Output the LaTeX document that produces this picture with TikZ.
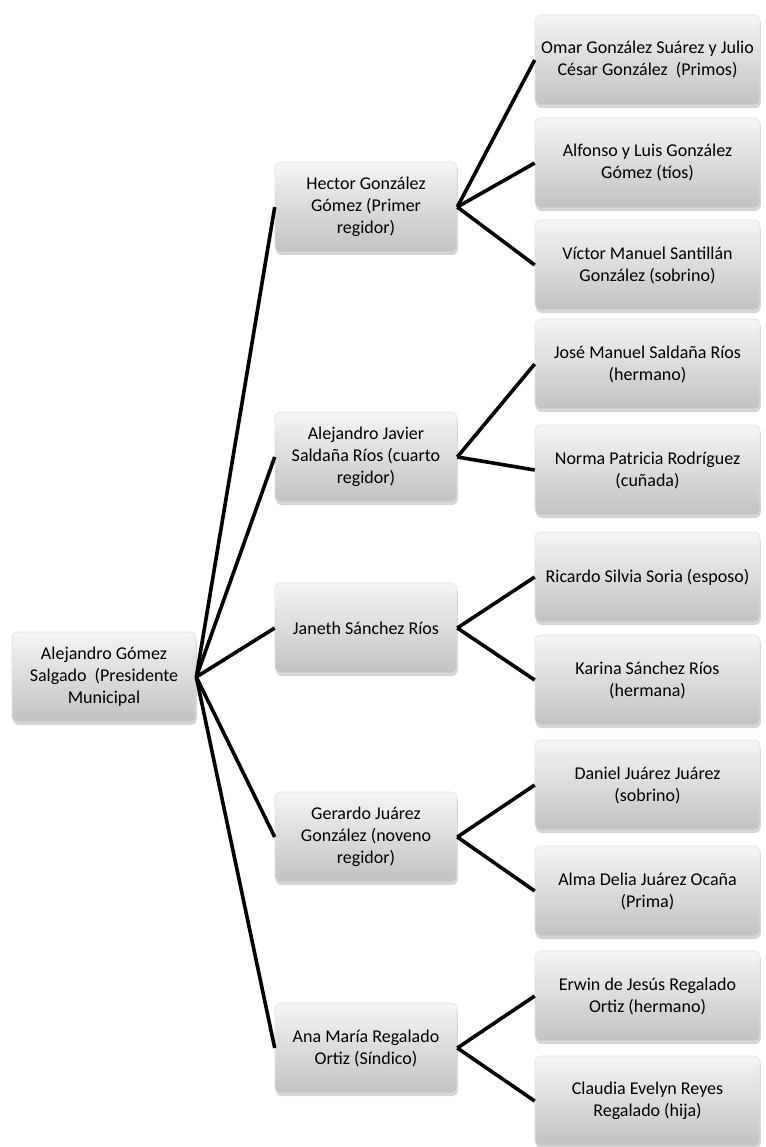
\documentclass[tikz,border=0pt]{standalone}
\usepackage{fontspec}
\setmainfont{Carlito}
\usetikzlibrary{shadows}
\tikzset{
  box/.style={rectangle, rounded corners=6pt, draw=white!88!black, line width=0.6pt,
    top color=white!96!black, bottom color=white!76!black, shading angle=0,
    drop shadow={shadow xshift=0.8pt, shadow yshift=-3pt, opacity=0.28, fill=black!60},
    align=center, inner sep=2pt, minimum height=90pt,
    font=\fontsize{18}{22}\selectfont, text=black},
  rootbox/.style={box, minimum width=184pt},
  lonebox/.style={box, minimum width=182pt},
  ltwobox/.style={box, minimum width=225pt},
  link/.style={draw=black, line width=3.6pt}
}
\begin{document}
\begin{tikzpicture}[x=1pt, y=-1pt]
\path[use as bounding box, fill=white] (0,0) rectangle (765,1147);
% root
\node[rootbox] (r) at (104,677) {Alejandro Gómez\\Salgado~ (Presidente\\Municipal};
% level 1
\node[lonebox] (h) at (366,207) {Hector González\\Gómez (Primer\\regidor)};
\node[lonebox] (aj) at (366,457) {Alejandro Javier\\Saldaña Ríos (cuarto\\regidor)};
\node[lonebox] (j) at (366,628) {Janeth Sánchez Ríos};
\node[lonebox] (g) at (366,837) {Gerardo Juárez\\González (noveno\\regidor)};
\node[lonebox] (a) at (366,1048) {Ana María Regalado\\Ortiz (Síndico)};
% level 2
\node[ltwobox] (c0) at (647.5,60) {Omar González Suárez y Julio\\César González~ (Primos)};
\node[ltwobox] (c1) at (647.5,163) {Alfonso y Luis González\\Gómez (tíos)};
\node[ltwobox] (c2) at (647.5,265) {Víctor Manuel Santillán\\González (sobrino)};
\node[ltwobox] (c3) at (647.5,364) {José Manuel Saldaña Ríos\\(hermano)};
\node[ltwobox] (c4) at (647.5,470) {Norma Patricia Rodríguez\\(cuñada)};
\node[ltwobox] (c5) at (647.5,577) {Ricardo Silvia Soria (esposo)};
\node[ltwobox] (c6) at (647.5,680) {Karina Sánchez Ríos\\(hermana)};
\node[ltwobox] (c7) at (647.5,785) {Daniel Juárez Juárez\\(sobrino)};
\node[ltwobox] (c8) at (647.5,891) {Alma Delia Juárez Ocaña\\(Prima)};
\node[ltwobox] (c9) at (647.5,996) {Erwin de Jesús Regalado\\Ortiz (hermano)};
\node[ltwobox] (c10) at (647.5,1101) {Claudia Evelyn Reyes\\Regalado (hija)};
% connectors
\foreach \t in {h,aj,j,g,a} \draw[link] (r.east) -- (\t.west);
\foreach \t in {c0,c1,c2} \draw[link] (h.east) -- (\t.west);
\foreach \t in {c3,c4} \draw[link] (aj.east) -- (\t.west);
\foreach \t in {c5,c6} \draw[link] (j.east) -- (\t.west);
\foreach \t in {c7,c8} \draw[link] (g.east) -- (\t.west);
\foreach \t in {c9,c10} \draw[link] (a.east) -- (\t.west);
\end{tikzpicture}
\end{document}
